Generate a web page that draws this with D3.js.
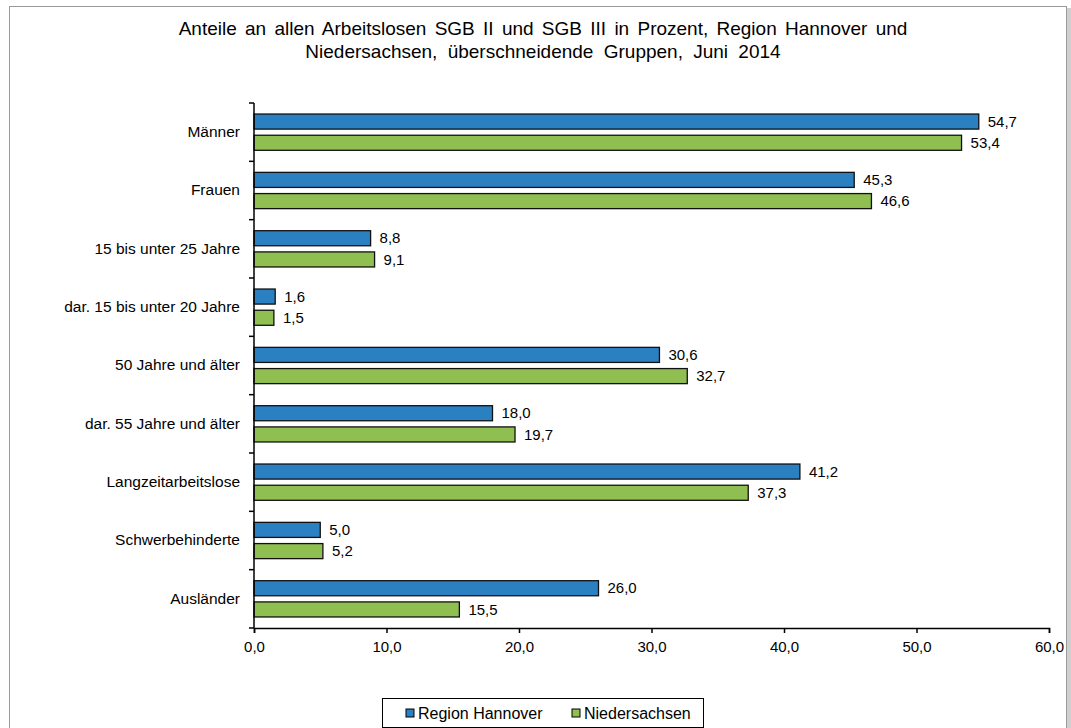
<!DOCTYPE html>
<html>
<head>
<meta charset="utf-8">
<script src="https://cdn.jsdelivr.net/npm/d3@7"></script>
<style>
  body { margin: 0; background: #fff; }
  svg { display: block; font-family: "Liberation Sans", Arial, sans-serif; }
</style>
</head>
<body>
<svg id="chart" width="1071" height="728"></svg>
<script>
var categories = ['Männer', 'Frauen', '15 bis unter 25 Jahre', 'dar. 15 bis unter 20 Jahre',
  '50 Jahre und älter', 'dar. 55 Jahre und älter', 'Langzeitarbeitslose', 'Schwerbehinderte', 'Ausländer'];
var hannover = [54.7, 45.3, 8.8, 1.6, 30.6, 18.0, 41.2, 5.0, 26.0];
var niedersachsen = [53.4, 46.6, 9.1, 1.5, 32.7, 19.7, 37.3, 5.2, 15.5];
var seriesNames = ['Region Hannover', 'Niedersachsen'];
var seriesColors = ['#2b80c2', '#8fbe51'];
var xTicks = [0, 10, 20, 30, 40, 50, 60];

var svg = d3.select('#chart');
var fontFam = '"Liberation Sans", Arial, sans-serif';

// frame with shadow
svg.append('rect')
  .attr('x', 11).attr('y', 8)
  .attr('width', 1060).attr('height', 730)
  .style('fill', '#cfcfcf');
svg.append('rect')
  .attr('x', 9.5).attr('y', 6.5)
  .attr('width', 1057).attr('height', 730)
  .style('fill', '#fff')
  .attr('stroke', '#9a9a9a');

// title
var title = svg.append('text')
  .attr('text-anchor', 'middle')
  .style('font-size', '19px')
  .style('fill', '#000');
title.append('tspan').attr('x', 543).attr('y', 35)
  .style('word-spacing', '3px')
  .text('Anteile an allen Arbeitslosen SGB II und SGB III in Prozent, Region Hannover und');
title.append('tspan').attr('x', 543).attr('y', 58)
  .style('word-spacing', '5px')
  .text('Niedersachsen, überschneidende Gruppen, Juni 2014');

var plotLeft = 254, plotRight = 1049, plotTop = 103, plotBottom = 628;

var x = d3.scaleLinear().domain([0, 60]).range([plotLeft, plotRight]);
var y = d3.scaleBand().domain(categories).range([plotTop, plotBottom]);
var inner = d3.scaleBand().domain([0, 1]).range([0, y.bandwidth()]).paddingInner(0.29).paddingOuter(0.52);

var rows = categories.map(function(c, i) {
  return { cat: c, vals: [hannover[i], niedersachsen[i]] };
});

var groups = svg.selectAll('g.row')
  .data(rows)
  .enter()
  .append('g')
  .attr('class', 'row')
  .attr('transform', function(d) { return 'translate(0,' + y(d.cat) + ')'; });

groups.selectAll('rect')
  .data(function(d) { return d.vals; })
  .enter()
  .append('rect')
  .attr('x', x(0))
  .attr('y', function(d, i) { return inner(i); })
  .attr('width', function(d) { return x(d) - x(0); })
  .attr('height', inner.bandwidth())
  .style('fill', function(d, i) { return seriesColors[i]; })
  .attr('stroke', '#111')
  .attr('stroke-width', 1.3);

groups.selectAll('text')
  .data(function(d) { return d.vals; })
  .enter()
  .append('text')
  .attr('x', function(d) { return x(d) + 9; })
  .attr('y', function(d, i) { return inner(i) + inner.bandwidth() / 2; })
  .attr('dy', '0.35em')
  .style('font-size', '15px')
  .text(function(d) { return d.toFixed(1).replace('.', ','); });

// x axis
var xAxis = svg.append('g')
  .attr('transform', 'translate(0,' + plotBottom + ')')
  .call(d3.axisBottom(x).tickValues(xTicks).tickSize(5).tickSizeOuter(5)
    .tickFormat(function(d) { return d.toFixed(1).replace('.', ','); }));
xAxis.select('.domain').attr('stroke', '#000').attr('stroke-width', 1.5);
xAxis.selectAll('.tick line').attr('stroke', '#000').attr('stroke-width', 1.5);
xAxis.selectAll('.tick text').style('font-size', '15px').style('font-family', fontFam)
  .attr('dy', '1.05em').style('fill', '#000');

// y axis
var yAxis = svg.append('g')
  .attr('transform', 'translate(' + plotLeft + ',0)')
  .call(d3.axisLeft(y).tickSize(0).tickPadding(14));
yAxis.select('.domain').remove();
yAxis.selectAll('.tick text').style('font-size', '15.5px').style('font-family', fontFam).style('fill', '#000');
var yBounds = categories.map(function(c) { return y(c); }).concat([plotBottom]);
yAxis.selectAll('line.sep')
  .data(yBounds)
  .enter()
  .append('line')
  .attr('class', 'sep')
  .attr('x1', -5).attr('x2', 0)
  .attr('y1', function(d) { return d; })
  .attr('y2', function(d) { return d; })
  .attr('stroke', '#000').attr('stroke-width', 1.5);
yAxis.append('line')
  .attr('x1', 0).attr('x2', 0)
  .attr('y1', plotTop).attr('y2', plotBottom)
  .attr('stroke', '#000').attr('stroke-width', 1.5);

// legend
var legend = svg.append('g');
legend.append('rect')
  .attr('x', 382.5).attr('y', 698.5)
  .attr('width', 321).attr('height', 29)
  .style('fill', '#fff')
  .attr('stroke', '#000');
var legendX = [406, 572];
seriesNames.forEach(function(name, i) {
  legend.append('rect')
    .attr('x', legendX[i]).attr('y', 709)
    .attr('width', 8).attr('height', 8)
    .style('fill', seriesColors[i])
    .attr('stroke', '#000');
  legend.append('text')
    .attr('x', legendX[i] + 12).attr('y', 713.5)
    .attr('dy', '0.35em')
    .style('font-size', '16px')
    .text(name);
});
</script>
</body>
</html>
